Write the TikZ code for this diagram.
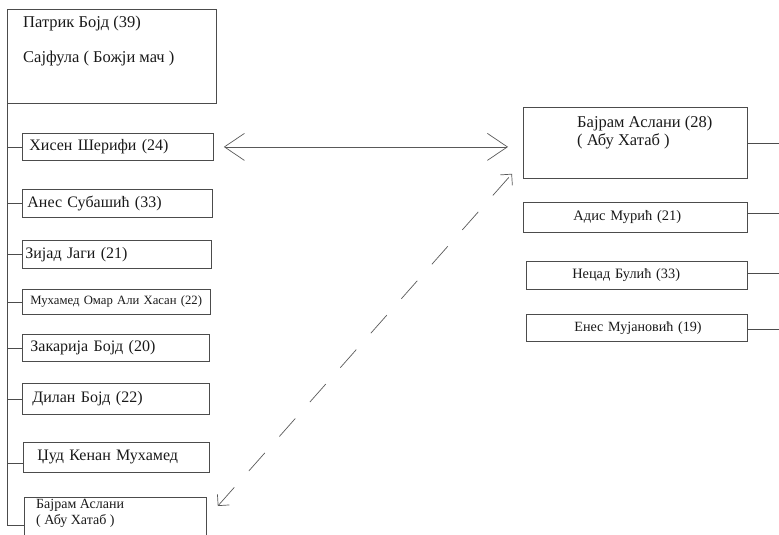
\documentclass[tikz,border=0pt]{standalone}
\usepackage{fontspec}
\setmainfont{Liberation Serif}
\usetikzlibrary{arrows.meta}
\begin{document}
\begin{tikzpicture}[x=1pt, y=-1pt,
    box/.style={draw=black!70, line width=0.8pt, anchor=north west, align=left, inner xsep=0pt, text=black!90, font=\fontsize{16}{18}\selectfont},
    pad/.style={execute at begin node={\hspace*{#1pt}}},
    wire/.style={draw=black!70, line width=0.8pt},
    link/.style={draw=black!65, line width=0.7pt}]
  \useasboundingbox (0,0) rectangle (779,535);
  \coordinate (edge) at (779,0);
  % leader of the cell
  \node[box, minimum width=209, minimum height=94] (leader) at (7,9) {};
  \node[anchor=north west, align=left, inner sep=0pt, text=black!90, font=\fontsize{16.5}{19}\selectfont] (leadertext) at (23,16) {Патрик Бојд (39)\\[16pt]Сајфула ( Божји мач )};
  % members on the left
  \node[box, pad=7, text width=191, minimum height=27] (b1) at (22,133) {Хисен Шерифи (24)};
  \node[box, pad=5, text width=190, minimum height=28] (b2) at (22,189) {Анес Субашић (33)};
  \node[box, pad=3, text width=189, minimum height=28] (b3) at (22,240) {Зијад Јаги (21)};
  \node[box, pad=8, text width=188, minimum height=25, font=\fontsize{12.7}{14}\selectfont] (b4) at (22,289) {Мухамед Омар Али Хасан (22)};
  \node[box, pad=8, text width=187, minimum height=27] (b5) at (22,334) {Закарија Бојд (20)};
  \node[box, pad=10, text width=187, minimum height=31] (b6) at (22,383) {Дилан Бојд (22)};
  \node[box, pad=14, text width=186, minimum height=30] (b7) at (23,442) {Џуд Кенан Мухамед};
  \node[box, minimum width=182, minimum height=60] (b8) at (24,497) {};
  \node[anchor=north west, align=left, inner sep=0pt, text=black!90, font=\fontsize{14}{16}\selectfont] (b8text) at (36,499.5) {Бајрам Аслани\\( Абу Хатаб )};
  % members on the right
  \node[box, minimum width=224, minimum height=71] (r0) at (523,107) {};
  \node[anchor=north west, align=left, inner sep=0pt, text=black!90, font=\fontsize{16.5}{18}\selectfont] (r0text) at (577,116) {Бајрам Аслани (28)\\( Абу Хатаб )};
  \node[box, pad=50, text width=224, minimum height=30, font=\fontsize{14.5}{16}\selectfont] (r1) at (523,202) {Адис Мурић (21)};
  \node[box, pad=46, text width=221, minimum height=28, font=\fontsize{14.3}{16}\selectfont] (r2) at (526,261) {Нецад Булић (33)};
  \node[box, pad=48, text width=221, minimum height=27, font=\fontsize{14.1}{16}\selectfont] (r3) at (526,314) {Енес Мујановић (19)};
  % tree lines
  \coordinate (tail) at (7,525);
  \draw[wire] (leader.south west) -- (tail) -- (tail -| b8.west);
  \foreach \m in {b1,b2,b3,b4,b5,b6}
    \draw[wire] (\m.west) -- (\m.west -| leader.west);
  \draw[wire] ([yshift=-6]b7.west) -- ([yshift=-6]b7.west -| leader.west);
  \draw[wire] (r0.east) -- (r0.east -| edge);
  \draw[wire] ([yshift=4]r1.east) -- ([yshift=4]r1.east -| edge);
  \draw[wire] ([yshift=2]r2.east) -- ([yshift=2]r2.east -| edge);
  \draw[wire] ([yshift=-1.5]r3.east) -- ([yshift=-1.5]r3.east -| edge);
  % arrows between the two names
  \draw[link, {Straight Barb[length=20pt,width=27pt]}-{Straight Barb[length=20pt,width=27pt]}] ([xshift=10]b1.east) -- ([xshift=-15]b1.east -| r0.west);
  \draw[link, dash pattern=on 24pt off 22pt, {Straight Barb[length=8pt,width=16pt]}-{Straight Barb[length=8pt,width=16pt]}] ([shift={(11,9)}]b8.north east) -- ([shift={(-11,-5)}]r0.south west);
\end{tikzpicture}
\end{document}
